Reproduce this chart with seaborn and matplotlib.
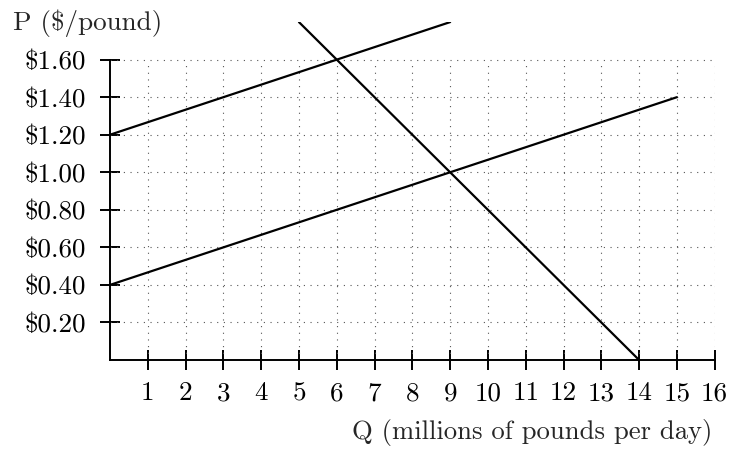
import matplotlib
matplotlib.use("Agg")
import matplotlib.pyplot as plt
import seaborn as sns

# Chart data
supply_high_q = [0, 9]
supply_high_p = [1.20, 1.80]
supply_low_q = [0, 15]
supply_low_p = [0.40, 1.40]
demand_q = [5, 14]
demand_p = [1.80, 0.00]

x_ticks = list(range(1, 17))
y_ticks = [0.2, 0.4, 0.6, 0.8, 1.0, 1.2, 1.4, 1.6]
y_tick_labels = ["$0.20", "$0.40", "$0.60", "$0.80", "$1.00", "$1.20", "$1.40", "$1.60"]

sns.set_style("white")
plt.rcParams['font.family'] = ['cmr10', 'DejaVu Serif']
plt.rcParams['axes.formatter.use_mathtext'] = True
plt.rcParams['mathtext.fontset'] = 'cm'

fig = plt.figure(figsize=(7.3, 4.51), dpi=100)
ax = fig.add_axes([0.1507, 0.2018, 0.979 - 0.1507, 0.951 - 0.2018])

# dotted grid, limited to the labelled area
for xv in x_ticks:
    ax.plot([xv, xv], [0, 1.6], color='#555555', linestyle=(0, (1, 5)), linewidth=0.8, zorder=1)
for yv in y_ticks:
    ax.plot([0, 16], [yv, yv], color='#555555', linestyle=(0, (1, 5)), linewidth=0.8, zorder=1)

for q, p in [(supply_high_q, supply_high_p), (supply_low_q, supply_low_p), (demand_q, demand_p)]:
    sns.lineplot(x=q, y=p, ax=ax, color='black', linewidth=1.6, zorder=3)

ax.set_xlim(0, 16)
ax.set_ylim(0, 1.8)

ax.spines['top'].set_visible(False)
ax.spines['right'].set_visible(False)
ax.spines['left'].set_bounds(0, 1.6)
ax.spines['bottom'].set_bounds(0, 16)
for s in ['left', 'bottom']:
    ax.spines[s].set_linewidth(1.4)
    ax.spines[s].set_color('black')

ax.set_xticks(x_ticks)
ax.set_xticklabels([str(v) for v in x_ticks])
ax.set_yticks(y_ticks)
ax.set_yticklabels(y_tick_labels)
ax.tick_params(axis='both', direction='inout', length=14, width=1.4, color='black',
               labelsize=19.5, labelcolor='black', bottom=True, left=True)
ax.tick_params(axis='x', pad=8.5)
ax.tick_params(axis='y', pad=10.3)

fig.text(0.018, 0.949, "P ($/pound)", fontsize=19.5, ha='left', va='center')
fig.text(0.976, 0.040, "Q (millions of pounds per day)", fontsize=19.2, ha='right', va='center')

fig.savefig("out.png", dpi=100)
